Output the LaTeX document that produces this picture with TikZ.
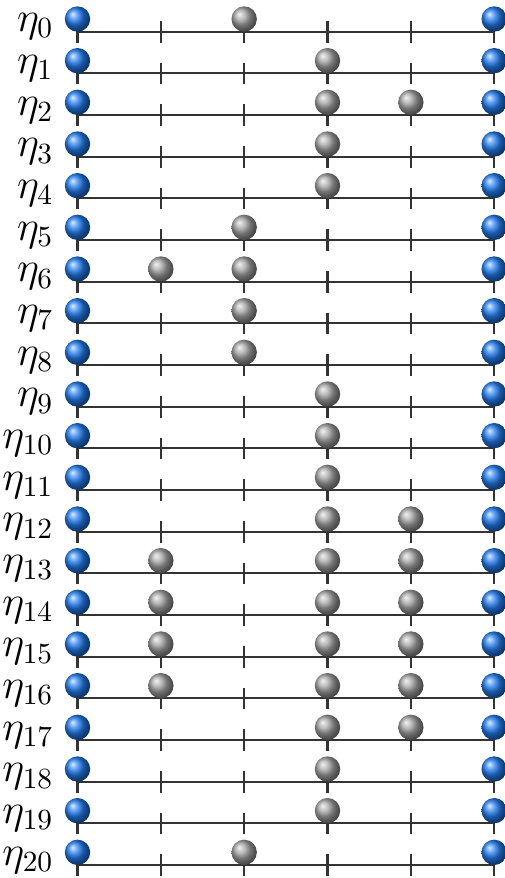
\documentclass[tikz,border=0pt]{standalone}
\usepackage{amsmath, amssymb}
\usepackage{tikz}
\usetikzlibrary{calc}

\definecolor{beadblue}{RGB}{35,125,240}

\begin{document}
\begin{tikzpicture}[
    bead/.style={circle, inner sep=0pt, minimum size=0.305cm, shading=ball},
    bluebead/.style={bead, ball color=beadblue},
    graybead/.style={bead, ball color=gray!70},
    rail/.style={line width=0.7pt, black!80}]
                \useasboundingbox (-0.93,-10.156) rectangle (5.13,0.38);
                \foreach \r/\beads in {0/{2}, 1/{3}, 2/{3,4}, 3/{3}, 4/{3}, 5/{2}, 6/{1,2}, 7/{2}, 8/{2}, 9/{3}, 10/{3},
                        11/{3}, 12/{3,4}, 13/{1,3,4}, 14/{1,3,4}, 15/{1,3,4}, 16/{1,3,4}, 17/{3,4}, 18/{3}, 19/{3}, 20/{2}} {
                    \coordinate (L\r) at (0,-0.5*\r);
                    \coordinate (R\r) at (5,-0.5*\r);
                    \node[anchor=base east, font=\Large, inner sep=0pt] (eta\r) at ($(L\r)+(-0.28,0)$) {$\eta_{\r}$};
                    \draw[rail] (L\r) -- (R\r);
                    % ticks
                    \foreach \k in {0,...,5} {
                        \coordinate (T\r-\k) at ($(L\r)+(\k,0.13)$);
                        \coordinate (B\r-\k) at ($(L\r)+(\k,-0.13)$);
                        \draw[rail] (T\r-\k) -- (B\r-\k);
                    }
                    % beads
                    \node[bluebead] (b\r-0) at ($(L\r)+(0,0.152)$) {};
                    \node[bluebead] (b\r-5) at ($(R\r)+(0,0.152)$) {};
                    \foreach \k in \beads
                        \node[graybead] (b\r-\k) at ($(L\r)+(\k,0.152)$) {};
                }
            \end{tikzpicture}
\end{document}
